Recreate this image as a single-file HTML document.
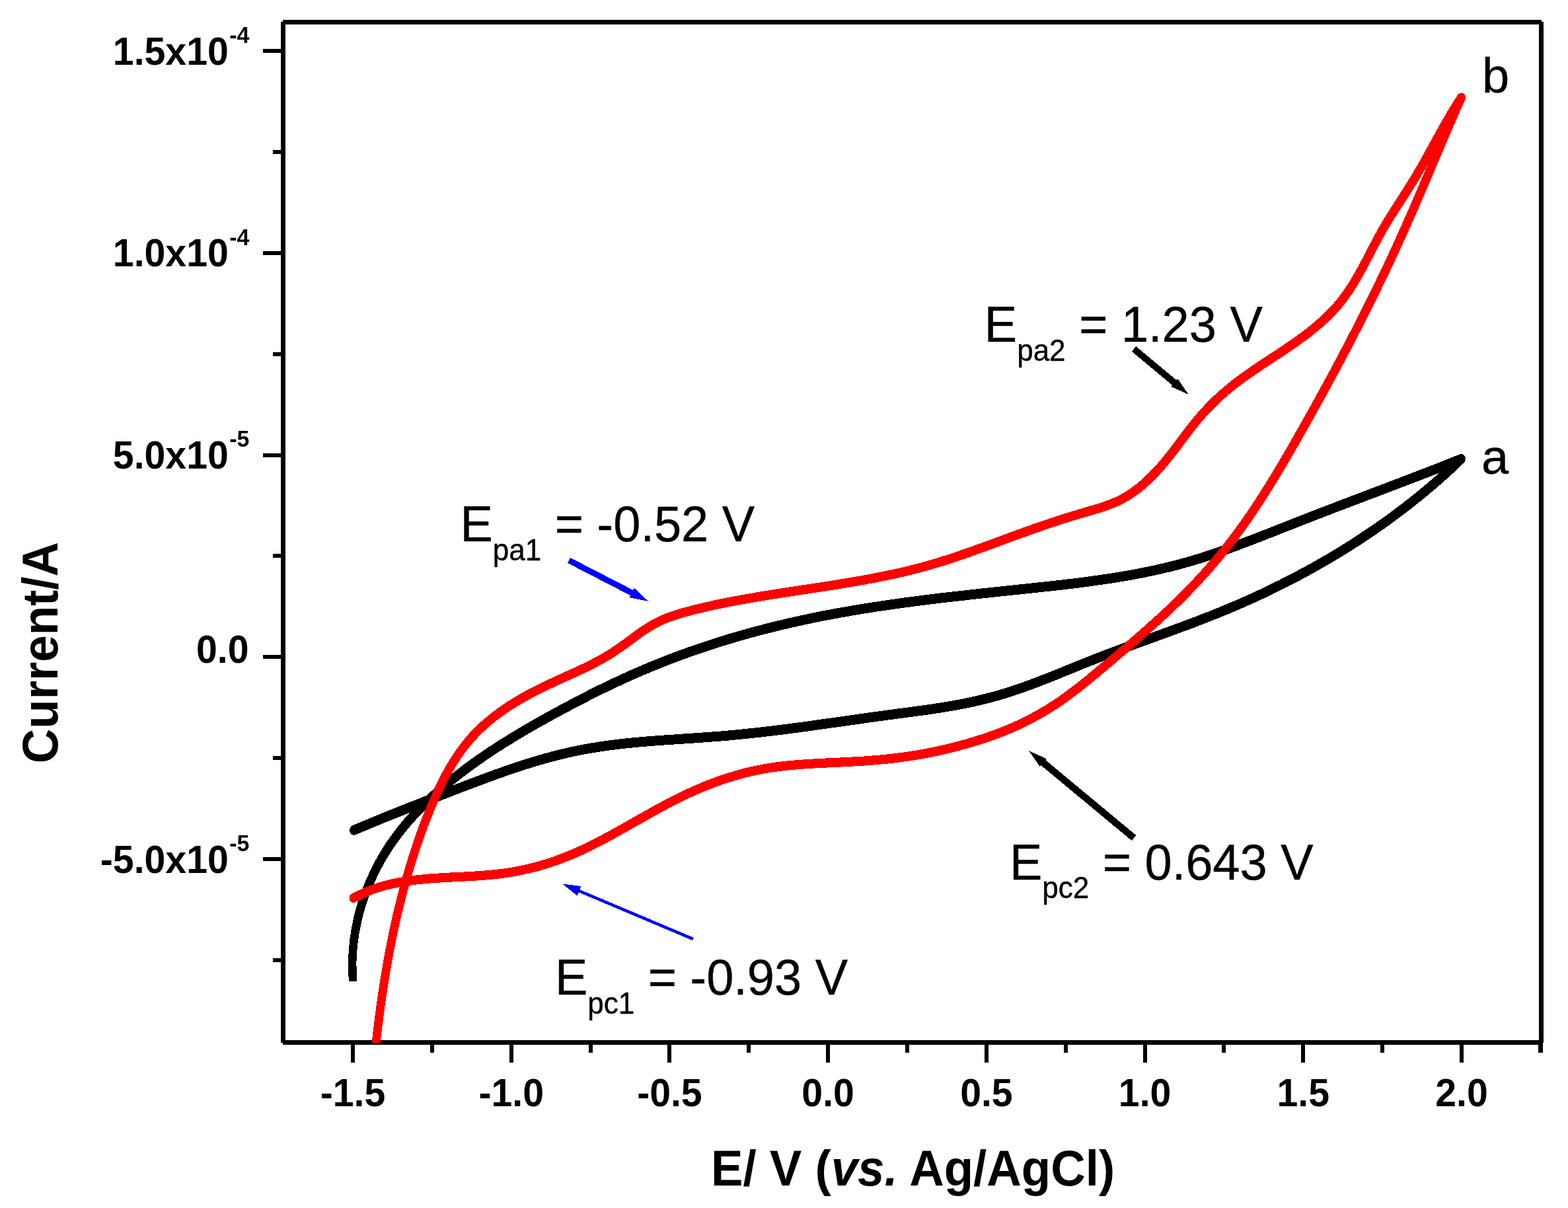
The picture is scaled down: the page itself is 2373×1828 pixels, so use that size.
<!DOCTYPE html>
<html lang="en">
<head>
<meta charset="utf-8">
<title>Cyclic voltammograms</title>
<style>
html,body{margin:0;padding:0;background:#fff;}
body{width:2373px;height:1828px;overflow:hidden;}
svg{display:block;}
</style>
</head>
<body>
<svg xmlns="http://www.w3.org/2000/svg" width="2373" height="1828" viewBox="0 0 2373 1828">
<rect width="2373" height="1828" fill="#fff"/>
<g shape-rendering="crispEdges" fill="#000">
<rect x="425" y="33" width="7" height="1545"/>
<rect x="428" y="30" width="1905" height="7"/>
<rect x="2329" y="33" width="7" height="1545"/>
<rect x="428" y="1574" width="1907" height="7"/>
<rect x="398" y="74" width="28" height="6"/>
<rect x="398" y="380" width="28" height="6"/>
<rect x="398" y="686" width="28" height="6"/>
<rect x="398" y="991" width="28" height="6"/>
<rect x="398" y="1297" width="28" height="6"/>
<rect x="413" y="227" width="13" height="6"/>
<rect x="413" y="533" width="13" height="6"/>
<rect x="413" y="838" width="13" height="6"/>
<rect x="413" y="1144" width="13" height="6"/>
<rect x="413" y="1450" width="13" height="6"/>
<rect x="531" y="1580" width="6" height="28"/>
<rect x="771" y="1580" width="6" height="28"/>
<rect x="1010" y="1580" width="6" height="28"/>
<rect x="1250" y="1580" width="6" height="28"/>
<rect x="1490" y="1580" width="6" height="28"/>
<rect x="1730" y="1580" width="6" height="28"/>
<rect x="1969" y="1580" width="6" height="28"/>
<rect x="2209" y="1580" width="6" height="28"/>
<rect x="651" y="1580" width="6" height="13"/>
<rect x="891" y="1580" width="6" height="13"/>
<rect x="1130" y="1580" width="6" height="13"/>
<rect x="1370" y="1580" width="6" height="13"/>
<rect x="1610" y="1580" width="6" height="13"/>
<rect x="1849" y="1580" width="6" height="13"/>
<rect x="2089" y="1580" width="6" height="13"/>
<rect x="2328" y="1580" width="7" height="13"/>
</g>
<clipPath id="plot"><rect x="428" y="33" width="1904" height="1545"/></clipPath>
<defs>
<path id="ka" d="M534.0 1483.8C533.9 1478.7 533.0 1463.4 533.3 1453.3C533.5 1443.1 534.3 1433.0 535.6 1422.9C536.9 1412.8 538.7 1402.8 540.9 1392.8C543.1 1382.9 545.9 1373.1 549.0 1363.4C552.1 1353.7 555.8 1344.2 559.8 1334.8C563.8 1325.5 568.2 1316.3 573.0 1307.4C577.8 1298.4 583.1 1289.7 588.6 1281.3C594.2 1272.8 600.2 1264.7 606.4 1256.7C612.7 1248.8 619.3 1241.1 626.1 1233.7C632.9 1226.2 640.1 1219.0 647.4 1212.0C654.7 1205.0 662.3 1198.2 670.0 1191.6C677.6 1185.0 685.5 1178.6 693.5 1172.4C701.5 1166.2 709.6 1160.2 717.7 1154.4C725.9 1148.5 734.1 1142.9 742.4 1137.3C750.8 1131.8 759.1 1126.4 767.6 1121.2C776.1 1115.9 784.6 1110.8 793.2 1105.7C801.8 1100.6 810.5 1095.7 819.2 1090.8C827.9 1085.9 836.7 1081.1 845.6 1076.3C854.4 1071.5 863.4 1066.8 872.3 1062.1C881.3 1057.4 890.4 1052.8 899.5 1048.2C908.5 1043.7 917.7 1039.2 926.9 1034.8C936.1 1030.5 945.4 1026.2 954.7 1022.0C964.0 1017.9 973.3 1013.9 982.7 1010.0C992.1 1006.1 1001.5 1002.3 1011.0 998.6C1020.5 995.0 1030.0 991.4 1039.6 988.0C1049.2 984.6 1058.8 981.3 1068.4 978.1C1078.1 974.9 1087.7 971.8 1097.4 968.8C1107.2 965.8 1116.9 963.0 1126.7 960.2C1136.4 957.5 1146.2 954.8 1156.1 952.3C1165.9 949.7 1175.7 947.3 1185.6 945.0C1195.5 942.6 1205.4 940.4 1215.3 938.3C1225.2 936.1 1235.2 934.1 1245.1 932.1C1255.1 930.2 1265.0 928.3 1275.0 926.6C1285.0 924.8 1295.0 923.1 1305.0 921.5C1315.0 919.8 1325.0 918.3 1335.1 916.8C1345.1 915.3 1355.1 913.9 1365.2 912.5C1375.2 911.1 1385.3 909.8 1395.4 908.5C1405.4 907.3 1415.5 906.0 1425.5 904.8C1435.6 903.6 1445.7 902.5 1455.7 901.4C1465.8 900.2 1475.9 899.1 1485.9 898.0C1496.0 896.9 1506.1 895.9 1516.1 894.8C1526.2 893.7 1536.2 892.7 1546.3 891.6C1556.3 890.6 1566.3 889.5 1576.4 888.4C1586.4 887.4 1596.4 886.3 1606.4 885.1C1616.4 884.0 1626.4 882.8 1636.3 881.5C1646.3 880.2 1656.3 878.9 1666.2 877.4C1676.1 876.0 1686.0 874.5 1695.9 872.8C1705.8 871.2 1715.7 869.4 1725.5 867.5C1735.4 865.6 1745.2 863.5 1755.0 861.3C1764.8 859.0 1774.6 856.7 1784.4 854.1C1794.1 851.5 1803.8 848.7 1813.5 845.7C1823.2 842.7 1832.8 839.5 1842.5 836.1C1852.1 832.8 1861.7 829.3 1871.3 825.8C1880.9 822.2 1890.4 818.6 1900.0 814.9C1909.5 811.2 1919.0 807.5 1928.5 803.8C1938.0 800.1 1947.5 796.3 1957.0 792.6C1966.4 788.9 1975.9 785.2 1985.3 781.5C1994.8 777.8 2004.2 774.2 2013.6 770.6C2023.1 766.9 2032.5 763.4 2041.9 759.8C2051.3 756.2 2060.7 752.6 2070.1 749.1C2079.5 745.5 2088.9 742.0 2098.3 738.4C2107.7 734.8 2117.1 731.2 2126.6 727.6C2136.0 724.0 2145.4 720.4 2154.8 716.8C2164.2 713.1 2173.7 709.5 2183.1 705.8C2192.6 702.0 2206.8 696.4 2211.5 694.5"/>
<path id="kb" d="M2211.5 694.5C2207.8 698.0 2196.7 708.5 2189.2 715.3C2181.7 722.2 2174.0 728.9 2166.2 735.5C2158.5 742.1 2150.6 748.6 2142.7 754.9C2134.7 761.3 2126.7 767.6 2118.5 773.7C2110.4 779.8 2102.2 785.9 2093.9 791.8C2085.6 797.7 2077.2 803.4 2068.7 809.1C2060.3 814.8 2051.7 820.4 2043.1 825.8C2034.5 831.2 2025.9 836.6 2017.1 841.8C2008.4 847.0 1999.6 852.1 1990.7 857.1C1981.9 862.0 1973.0 866.9 1964.0 871.6C1955.1 876.4 1946.1 881.0 1937.0 885.5C1928.0 890.0 1918.9 894.4 1909.7 898.7C1900.6 903.0 1891.4 907.2 1882.2 911.2C1873.1 915.3 1863.8 919.2 1854.6 923.0C1845.3 926.9 1836.0 930.6 1826.7 934.2C1817.4 937.9 1808.1 941.4 1798.7 944.9C1789.4 948.4 1780.0 951.9 1770.6 955.3C1761.2 958.8 1751.7 962.2 1742.3 965.6C1732.8 969.0 1723.3 972.5 1713.8 976.0C1704.3 979.5 1694.8 983.0 1685.2 986.6C1675.7 990.2 1666.1 993.8 1656.5 997.6C1646.9 1001.3 1637.3 1005.2 1627.7 1009.1C1618.0 1013.0 1608.4 1017.0 1598.7 1020.9C1589.0 1024.8 1579.3 1028.7 1569.6 1032.3C1559.9 1036.0 1550.1 1039.6 1540.4 1042.9C1530.6 1046.2 1520.8 1049.4 1511.0 1052.2C1501.2 1055.0 1491.4 1057.5 1481.6 1059.9C1471.7 1062.2 1461.9 1064.2 1452.0 1066.1C1442.1 1068.0 1432.2 1069.6 1422.3 1071.2C1412.4 1072.8 1402.5 1074.2 1392.6 1075.5C1382.6 1076.9 1372.7 1078.2 1362.7 1079.5C1352.7 1080.8 1342.7 1082.1 1332.7 1083.5C1322.7 1084.9 1312.7 1086.3 1302.7 1087.7C1292.6 1089.1 1282.6 1090.6 1272.5 1092.0C1262.5 1093.4 1252.4 1094.8 1242.3 1096.2C1232.3 1097.6 1222.2 1099.1 1212.1 1100.4C1202.0 1101.8 1191.9 1103.1 1181.8 1104.4C1171.7 1105.6 1161.6 1106.8 1151.5 1108.0C1141.5 1109.1 1131.4 1110.2 1121.3 1111.2C1111.2 1112.2 1101.1 1113.2 1091.0 1114.0C1080.9 1114.8 1070.8 1115.5 1060.7 1116.2C1050.6 1117.0 1040.6 1117.6 1030.5 1118.3C1020.4 1119.0 1010.4 1119.6 1000.3 1120.3C990.3 1121.1 980.2 1121.8 970.2 1122.7C960.2 1123.6 950.2 1124.6 940.2 1125.7C930.2 1126.9 920.2 1128.1 910.3 1129.6C900.3 1131.1 890.4 1132.7 880.4 1134.6C870.5 1136.5 860.6 1138.7 850.7 1141.1C840.8 1143.4 831.0 1146.1 821.1 1148.9C811.3 1151.7 801.5 1154.7 791.7 1157.8C781.9 1161.0 772.2 1164.3 762.4 1167.7C752.7 1171.1 743.0 1174.6 733.3 1178.2C723.7 1181.8 714.0 1185.4 704.4 1189.1C694.8 1192.7 685.2 1196.4 675.7 1200.1C666.2 1203.8 656.7 1207.5 647.2 1211.2C637.7 1214.9 628.3 1218.6 618.9 1222.3C609.5 1226.0 600.2 1229.7 590.9 1233.5C581.6 1237.2 572.3 1241.0 563.1 1244.8C553.9 1248.6 540.2 1254.4 535.6 1256.3" stroke-linecap="round"/>
<path id="ra" d="M567.5 1592.0C568.1 1587.0 569.7 1571.9 570.9 1561.9C572.1 1551.9 573.4 1541.9 574.7 1531.9C576.1 1522.0 577.4 1512.0 578.9 1502.1C580.4 1492.2 582.0 1482.3 583.6 1472.4C585.3 1462.5 587.0 1452.7 588.8 1442.9C590.7 1433.0 592.6 1423.2 594.6 1413.5C596.7 1403.7 598.8 1393.9 601.0 1384.2C603.3 1374.5 605.7 1364.8 608.2 1355.1C610.7 1345.5 613.3 1335.8 616.0 1326.2C618.8 1316.6 621.6 1307.0 624.7 1297.5C627.7 1287.9 630.9 1278.4 634.2 1268.9C637.5 1259.4 640.9 1249.9 644.6 1240.4C648.2 1231.0 652.0 1221.5 656.0 1212.2C660.0 1202.9 664.2 1193.6 668.7 1184.6C673.2 1175.6 677.9 1166.7 683.1 1158.1C688.3 1149.5 693.7 1141.2 699.7 1133.2C705.7 1125.3 712.0 1117.6 718.9 1110.4C725.7 1103.2 733.1 1096.5 740.8 1090.1C748.5 1083.7 756.7 1077.7 765.0 1072.1C773.3 1066.4 782.0 1061.1 790.7 1056.1C799.5 1051.1 808.5 1046.4 817.4 1041.9C826.3 1037.5 835.3 1033.4 844.2 1029.3C853.1 1025.1 862.0 1021.4 870.9 1017.2C879.8 1013.1 888.6 1009.1 897.3 1004.5C906.1 1000.0 914.8 995.2 923.5 989.8C932.1 984.4 940.7 978.0 949.2 972.0C957.7 966.0 966.0 959.2 974.6 953.7C983.2 948.1 991.8 942.9 1000.7 938.8C1009.7 934.6 1018.9 931.7 1028.1 928.8C1037.4 925.9 1046.9 923.6 1056.4 921.3C1065.9 918.9 1075.5 916.8 1085.1 914.7C1094.8 912.7 1104.6 910.8 1114.4 908.9C1124.2 907.1 1134.1 905.4 1144.0 903.7C1153.9 902.0 1163.8 900.4 1173.8 898.8C1183.8 897.3 1193.8 895.8 1203.8 894.2C1213.8 892.7 1223.9 891.2 1233.9 889.7C1243.9 888.1 1254.0 886.6 1264.0 885.0C1274.0 883.4 1284.0 881.8 1294.0 880.0C1304.0 878.3 1313.9 876.5 1323.8 874.6C1333.7 872.7 1343.5 870.7 1353.3 868.6C1363.1 866.4 1372.8 864.2 1382.4 861.7C1392.1 859.3 1401.6 856.7 1411.1 853.9C1420.6 851.1 1430.0 848.1 1439.4 845.1C1448.7 842.0 1458.0 838.8 1467.4 835.5C1476.7 832.2 1486.0 828.8 1495.4 825.4C1504.8 822.0 1514.1 818.5 1523.6 815.0C1533.1 811.6 1542.6 808.0 1552.2 804.6C1561.9 801.1 1571.7 797.7 1581.5 794.4C1591.3 791.0 1601.2 787.7 1611.0 784.6C1620.8 781.5 1630.6 778.6 1640.2 775.8C1649.7 772.9 1659.3 770.5 1668.4 767.4C1677.6 764.2 1686.6 761.1 1695.2 756.7C1703.8 752.3 1712.1 747.0 1720.0 741.1C1727.9 735.1 1735.4 728.2 1742.6 721.1C1749.9 713.9 1756.7 706.1 1763.2 698.4C1769.8 690.6 1775.8 682.5 1781.9 674.6C1787.9 666.7 1793.5 658.7 1799.6 651.0C1805.7 643.2 1811.8 635.4 1818.4 628.0C1825.0 620.5 1832.0 613.2 1839.2 606.3C1846.4 599.3 1854.0 592.7 1861.8 586.4C1869.6 580.1 1877.7 574.1 1885.8 568.3C1894.0 562.4 1902.4 556.8 1910.8 551.2C1919.1 545.6 1927.6 540.2 1935.9 534.6C1944.3 529.0 1952.7 523.5 1960.8 517.7C1968.9 511.9 1977.0 506.1 1984.7 499.9C1992.4 493.7 1999.9 487.3 2007.0 480.5C2014.1 473.6 2021.0 466.5 2027.3 458.8C2033.6 451.1 2039.3 442.9 2044.9 434.4C2050.4 425.9 2055.4 416.8 2060.4 407.8C2065.4 398.8 2070.0 389.5 2074.8 380.4C2079.6 371.3 2084.3 362.1 2089.2 353.3C2094.1 344.5 2099.2 336.0 2104.4 327.6C2109.6 319.2 2114.9 311.1 2120.2 302.8C2125.5 294.6 2130.8 286.5 2136.0 278.0C2141.2 269.6 2146.3 261.0 2151.3 252.2C2156.3 243.5 2161.2 234.5 2166.1 225.6C2171.0 216.7 2175.8 207.7 2180.8 198.9C2185.7 190.0 2190.7 181.2 2195.8 172.6C2200.9 164.0 2208.9 151.7 2211.5 147.5"/>
<path id="rb" d="M2211.5 147.5C2209.4 152.2 2203.2 166.2 2199.2 175.5C2195.1 184.8 2191.1 194.1 2187.1 203.4C2183.1 212.7 2179.2 222.0 2175.3 231.3C2171.3 240.5 2167.4 249.8 2163.5 259.1C2159.6 268.3 2155.7 277.5 2151.7 286.8C2147.8 296.0 2143.8 305.2 2139.8 314.4C2135.8 323.6 2131.8 332.8 2127.7 341.9C2123.7 351.1 2119.5 360.2 2115.4 369.4C2111.2 378.5 2107.0 387.6 2102.7 396.8C2098.4 405.9 2094.1 415.0 2089.7 424.0C2085.3 433.1 2080.9 442.2 2076.4 451.2C2072.0 460.3 2067.4 469.3 2062.9 478.3C2058.3 487.4 2053.7 496.4 2049.1 505.3C2044.5 514.3 2039.8 523.3 2035.1 532.3C2030.4 541.2 2025.6 550.1 2020.9 559.1C2016.1 568.0 2011.3 576.9 2006.4 585.8C2001.6 594.7 1996.7 603.5 1991.8 612.4C1986.9 621.2 1982.0 630.1 1977.0 638.9C1972.1 647.7 1967.1 656.5 1962.1 665.3C1957.1 674.1 1952.1 682.8 1947.0 691.5C1941.9 700.3 1936.8 708.9 1931.6 717.6C1926.4 726.2 1921.1 734.8 1915.7 743.3C1910.3 751.9 1904.9 760.3 1899.3 768.7C1893.7 777.1 1888.0 785.4 1882.2 793.6C1876.3 801.8 1870.4 809.9 1864.2 818.0C1858.1 826.0 1851.8 833.9 1845.4 841.7C1838.9 849.5 1832.4 857.1 1825.7 864.7C1819.0 872.2 1812.2 879.6 1805.3 886.9C1798.3 894.1 1791.3 901.2 1784.2 908.3C1777.0 915.3 1769.8 922.1 1762.5 929.0C1755.1 935.8 1747.7 942.5 1740.2 949.1C1732.8 955.8 1725.2 962.4 1717.6 969.0C1710.0 975.6 1702.3 982.1 1694.6 988.6C1686.9 995.2 1679.2 1001.7 1671.4 1008.3C1663.6 1014.8 1655.8 1021.4 1647.9 1027.9C1639.9 1034.3 1632.0 1040.8 1623.8 1046.9C1615.7 1053.0 1607.5 1059.0 1599.1 1064.6C1590.7 1070.2 1582.1 1075.5 1573.3 1080.5C1564.6 1085.5 1555.7 1090.1 1546.7 1094.4C1537.7 1098.8 1528.5 1102.7 1519.2 1106.5C1510.0 1110.2 1500.5 1113.6 1491.1 1116.8C1481.6 1119.9 1472.0 1122.9 1462.3 1125.6C1452.6 1128.4 1442.8 1131.0 1433.0 1133.3C1423.2 1135.6 1413.3 1137.8 1403.4 1139.7C1393.4 1141.6 1383.4 1143.2 1373.4 1144.7C1363.4 1146.2 1353.3 1147.4 1343.3 1148.5C1333.2 1149.5 1323.1 1150.4 1313.0 1151.2C1303.0 1151.9 1292.9 1152.4 1282.8 1153.0C1272.8 1153.5 1262.7 1153.9 1252.7 1154.4C1242.7 1154.9 1232.7 1155.3 1222.7 1156.0C1212.7 1156.7 1202.8 1157.4 1192.9 1158.4C1183.0 1159.4 1173.1 1160.6 1163.3 1162.2C1153.5 1163.8 1143.7 1165.7 1134.0 1168.0C1124.3 1170.3 1114.6 1173.0 1105.0 1176.0C1095.4 1178.9 1085.8 1182.3 1076.4 1185.9C1066.9 1189.5 1057.5 1193.4 1048.2 1197.6C1038.9 1201.8 1029.7 1206.3 1020.5 1210.9C1011.3 1215.6 1002.3 1220.5 993.2 1225.4C984.2 1230.4 975.2 1235.5 966.2 1240.5C957.3 1245.6 948.3 1250.7 939.4 1255.7C930.4 1260.7 921.5 1265.7 912.5 1270.4C903.5 1275.1 894.6 1279.7 885.5 1284.0C876.5 1288.2 867.4 1292.3 858.3 1295.9C849.1 1299.6 839.9 1303.0 830.6 1306.0C821.3 1309.0 811.9 1311.7 802.3 1314.0C792.8 1316.3 783.2 1318.3 773.4 1319.9C763.6 1321.6 753.7 1322.7 743.7 1323.7C733.7 1324.7 723.5 1325.3 713.3 1325.9C703.1 1326.6 692.8 1327.0 682.6 1327.5C672.3 1328.1 662.0 1328.6 651.8 1329.4C641.6 1330.3 631.4 1331.1 621.4 1332.5C611.3 1334.0 601.3 1335.6 591.5 1337.9C581.8 1340.2 572.1 1342.8 562.6 1346.3C553.2 1349.8 539.6 1356.7 535.0 1358.8" stroke-linecap="round"/>
</defs>
<g clip-path="url(#plot)" fill="none" stroke-linejoin="round" shape-rendering="crispEdges">
<g stroke="#000" stroke-width="12.4">
<use href="#ka" y="-1.3"/><use href="#kb" y="-1.3"/>
<use href="#ka" y="1.3"/><use href="#kb" y="1.3"/>
</g>
<g stroke="#f00" stroke-width="12.7">
<use href="#ra" y="-0.7"/><use href="#rb" y="-0.7"/>
<use href="#ra" y="0.7"/><use href="#rb" y="0.7"/>
</g>
</g>
<polygon shape-rendering="crispEdges" fill="#00f" points="858.9,852.0 954.0,901.0 952.4,904.1 981.0,909.8 959.8,889.9 958.2,893.0 863.1,844.0"/>
<polygon shape-rendering="crispEdges" fill="#00f" points="1049.9,1418.9 877.4,1346.1 879.5,1341.1 851.2,1337.5 873.5,1355.3 875.7,1350.3 1048.1,1423.1"/>
<polygon shape-rendering="crispEdges" fill="#000" points="1712.8,531.8 1774.0,582.9 1772.2,585.0 1798.7,597.0 1782.2,573.1 1780.4,575.2 1719.2,524.2"/>
<polygon shape-rendering="crispEdges" fill="#000" points="1719.4,1264.0 1582.1,1150.0 1583.7,1148.1 1557.2,1136.2 1573.8,1160.0 1575.4,1158.1 1712.6,1272.0"/>
<g font-family="'Liberation Sans', sans-serif" fill="#000">
<g transform="translate(377.5 97.6) scale(1 1.04)"><text font-size="57.2" font-weight="bold" text-anchor="end">1.5x10<tspan font-size="34" dx="1.5" dy="-31.5">-4</tspan></text></g>
<g transform="translate(377.5 403.4) scale(1 1.04)"><text font-size="57.2" font-weight="bold" text-anchor="end">1.0x10<tspan font-size="34" dx="1.5" dy="-31.5">-4</tspan></text></g>
<g transform="translate(377.5 709.1) scale(1 1.04)"><text font-size="57.2" font-weight="bold" text-anchor="end">5.0x10<tspan font-size="34" dx="1.5" dy="-31.5">-5</tspan></text></g>
<g transform="translate(376.5 1003.0) scale(1 1.04)"><text font-size="57.2" font-weight="bold" text-anchor="end">0.0</text></g>
<g transform="translate(377.5 1320.6) scale(1 1.04)"><text font-size="57.2" font-weight="bold" text-anchor="end">-5.0x10<tspan font-size="34" dx="1.5" dy="-31.5">-5</tspan></text></g>
<g transform="translate(534.0 1674.2) scale(1 1.04)"><text font-size="57.2" font-weight="bold" text-anchor="middle">-1.5</text></g>
<g transform="translate(773.7 1674.2) scale(1 1.04)"><text font-size="57.2" font-weight="bold" text-anchor="middle">-1.0</text></g>
<g transform="translate(1013.4 1674.2) scale(1 1.04)"><text font-size="57.2" font-weight="bold" text-anchor="middle">-0.5</text></g>
<g transform="translate(1253.1 1674.2) scale(1 1.04)"><text font-size="57.2" font-weight="bold" text-anchor="middle">0.0</text></g>
<g transform="translate(1492.9 1674.2) scale(1 1.04)"><text font-size="57.2" font-weight="bold" text-anchor="middle">0.5</text></g>
<g transform="translate(1732.6 1674.2) scale(1 1.04)"><text font-size="57.2" font-weight="bold" text-anchor="middle">1.0</text></g>
<g transform="translate(1972.3 1674.2) scale(1 1.04)"><text font-size="57.2" font-weight="bold" text-anchor="middle">1.5</text></g>
<g transform="translate(2212.0 1674.2) scale(1 1.04)"><text font-size="57.2" font-weight="bold" text-anchor="middle">2.0</text></g>
<g transform="translate(1381.5 1794.2) scale(1 1.04)"><text font-size="72.7" font-weight="bold" text-anchor="middle">E/ V (<tspan font-style="italic">vs.</tspan> Ag/AgCl)</text></g>
<g transform="translate(86.6 987.6) rotate(-90) scale(1 1.04)"><text font-size="72.7" font-weight="bold" text-anchor="middle">Current/A</text></g>
<g transform="translate(1489.8 516.8) scale(1 1.03)"><text font-size="74" stroke="#000" stroke-width="0.4">E<tspan font-size="44" dy="28">pa2</tspan><tspan dy="-28"> = 1.23 V</tspan></text></g>
<g transform="translate(696.5 819.3) scale(1 1.03)"><text font-size="74" stroke="#000" stroke-width="0.4">E<tspan font-size="44" dy="28">pa1</tspan><tspan dy="-28"> = -0.52 V</tspan></text></g>
<g transform="translate(1527.9 1330.6) scale(1 1.03)"><text font-size="74" stroke="#000" stroke-width="0.4">E<tspan font-size="44" dy="28">pc2</tspan><tspan dy="-28"> = 0.643 V</tspan></text></g>
<g transform="translate(839.9 1505.3) scale(1 1.03)"><text font-size="74" stroke="#000" stroke-width="0.4">E<tspan font-size="44" dy="28">pc1</tspan><tspan dy="-28"> = -0.93 V</tspan></text></g>
<g transform="translate(2243.0 139.5)"><text font-size="74" stroke="#000" stroke-width="0.4">b</text></g>
<g transform="translate(2242.0 716.5)"><text font-size="74" stroke="#000" stroke-width="0.4">a</text></g>
</g>
</svg>
</body>
</html>
